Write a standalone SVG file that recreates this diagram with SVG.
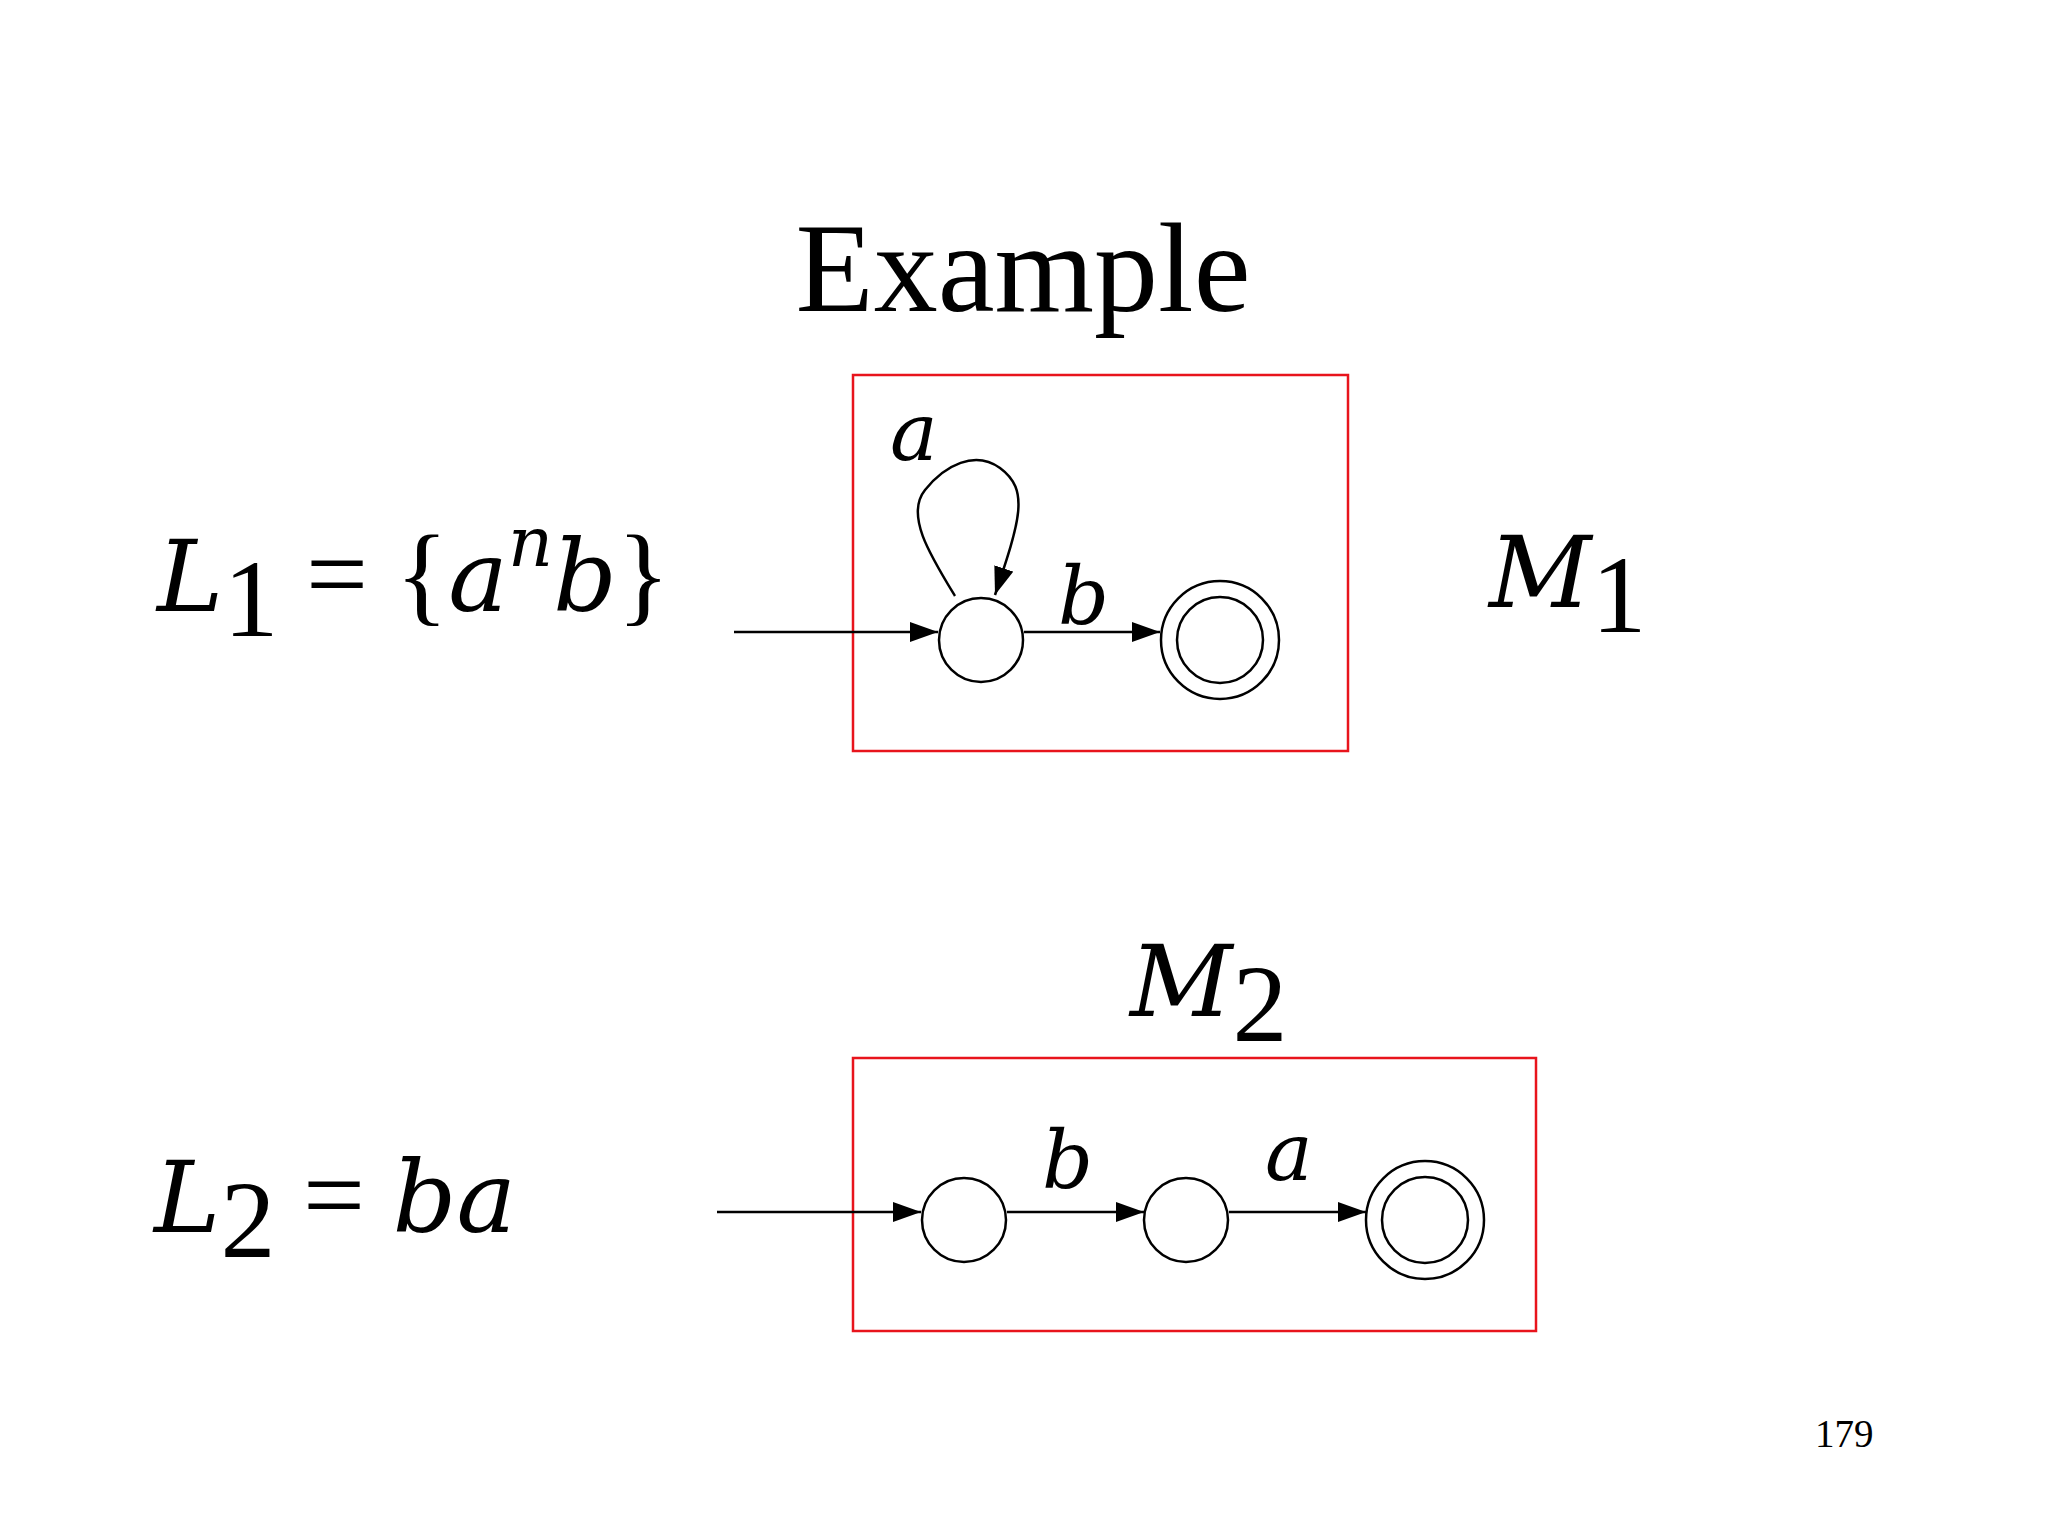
<svg xmlns="http://www.w3.org/2000/svg" width="2048" height="1536" viewBox="0 0 2048 1536">
<style>
.t{font-family:"Liberation Serif","Times New Roman",serif;fill:#000}
.i{font-family:"DejaVu Serif","Liberation Serif",serif;font-style:italic}
.n{font-family:"Liberation Serif","Times New Roman",serif;font-style:normal}
.st{fill:#fff;stroke:#000;stroke-width:2.5}
.e{stroke:#000;stroke-width:2.5;fill:none}
.box{fill:none;stroke:#e8141c;stroke-width:2.5}
</style>
<defs><marker id="ah" markerWidth="28" markerHeight="20" refX="28" refY="10" orient="auto" markerUnits="userSpaceOnUse" viewBox="0 0 28 20"><path d="M0,0L28,10L0,20z" fill="#000"/></marker></defs>
<rect width="2048" height="1536" fill="#fff"/>
<text class="t" x="1023" y="311" font-size="128" text-anchor="middle">Example</text>
<text class="t i" x="157" y="611" font-size="100">L<tspan class="n" font-size="110" dy="25">1</tspan><tspan class="n" font-size="110" dy="-25"> = {</tspan>a<tspan dy="-45" font-size="70">n</tspan><tspan dy="45">b</tspan><tspan class="n" font-size="110">}</tspan></text>
<text class="t i" x="1489" y="607" font-size="100">M<tspan class="n" font-size="110" dy="25">1</tspan></text>
<text class="t i" x="1130" y="1016" font-size="100">M<tspan class="n" font-size="110" dy="25">2</tspan></text>
<text class="t i" x="154" y="1232" font-size="100">L<tspan class="n" font-size="110" dy="25">2</tspan><tspan class="n" font-size="110" dy="-25"> =  </tspan>ba</text>
<text class="t" x="1815" y="1447" font-size="39">179</text>
<rect class="box" x="853" y="375" width="495" height="376"/>
<rect class="box" x="853" y="1058" width="683" height="273"/>
<g id="edges">
<line class="e" x1="734" y1="632" x2="938" y2="632" marker-end="url(#ah)"/>
<line class="e" x1="1024" y1="632" x2="1160" y2="632" marker-end="url(#ah)"/>
<path class="e" d="M955,596 C930,555 905,515 925,490 C945,465 975,450 1000,468 C1030,490 1020,520 995,595" marker-end="url(#ah)"/>
<line class="e" x1="717" y1="1212" x2="921" y2="1212" marker-end="url(#ah)"/>
<line class="e" x1="1007" y1="1212" x2="1144" y2="1212" marker-end="url(#ah)"/>
<line class="e" x1="1229" y1="1212" x2="1366" y2="1212" marker-end="url(#ah)"/>
</g>
<text class="t i" x="890" y="460" font-size="80">a</text>
<text class="t i" x="1058" y="624" font-size="80">b</text>
<text class="t i" x="1042" y="1188" font-size="80">b</text>
<text class="t i" x="1265" y="1180" font-size="80">a</text>
<g id="q0"><circle class="st" cx="981" cy="640" r="42"/></g>
<g id="q1"><circle class="st" cx="1220" cy="640" r="59"/><circle class="st" cx="1220" cy="640" r="43"/></g>
<g id="p0"><circle class="st" cx="964" cy="1220" r="42"/></g>
<g id="p1"><circle class="st" cx="1186" cy="1220" r="42"/></g>
<g id="p2"><circle class="st" cx="1425" cy="1220" r="59"/><circle class="st" cx="1425" cy="1220" r="43"/></g>
</svg>
